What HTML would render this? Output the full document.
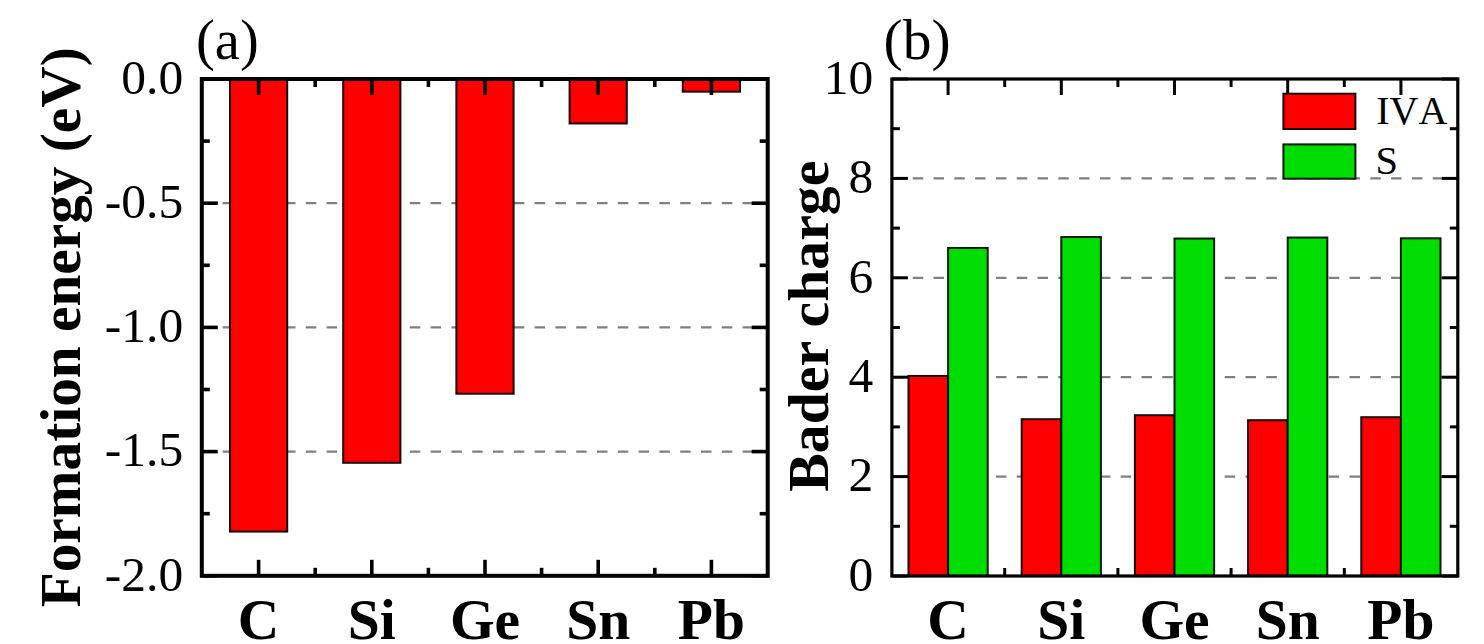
<!DOCTYPE html>
<html><head><meta charset="utf-8"><style>
html,body{margin:0;padding:0;background:#fff;width:1484px;height:644px;overflow:hidden}
svg{display:block}
text{font-family:"Liberation Serif",serif;fill:#000}
</style></head><body>
<svg width="1484" height="644" viewBox="0 0 1484 644">
<rect x="0" y="0" width="1484" height="644" fill="#fff"/>
<line x1="201.8" y1="203.2" x2="767.7" y2="203.2" stroke="#7f7f7f" stroke-width="2.2" stroke-dasharray="10.5 10.3"/>
<line x1="201.8" y1="327.4" x2="767.7" y2="327.4" stroke="#7f7f7f" stroke-width="2.2" stroke-dasharray="10.5 10.3"/>
<line x1="201.8" y1="451.6" x2="767.7" y2="451.6" stroke="#7f7f7f" stroke-width="2.2" stroke-dasharray="10.5 10.3"/>
<rect x="230" y="79" width="57.2" height="452.58" fill="#ff0000" stroke="#1a0000" stroke-width="2"/>
<rect x="343.2" y="79" width="57.2" height="383.78" fill="#ff0000" stroke="#1a0000" stroke-width="2"/>
<rect x="456.4" y="79" width="57.2" height="314.72" fill="#ff0000" stroke="#1a0000" stroke-width="2"/>
<rect x="569.6" y="79" width="57.2" height="44.46" fill="#ff0000" stroke="#1a0000" stroke-width="2"/>
<rect x="682.8" y="79" width="57.2" height="12.67" fill="#ff0000" stroke="#1a0000" stroke-width="2"/>
<line x1="258.6" y1="79" x2="258.6" y2="95" stroke="#000" stroke-width="3.6" />
<line x1="258.6" y1="575.8" x2="258.6" y2="559.8" stroke="#000" stroke-width="3.6" />
<line x1="371.8" y1="79" x2="371.8" y2="95" stroke="#000" stroke-width="3.6" />
<line x1="371.8" y1="575.8" x2="371.8" y2="559.8" stroke="#000" stroke-width="3.6" />
<line x1="485" y1="79" x2="485" y2="95" stroke="#000" stroke-width="3.6" />
<line x1="485" y1="575.8" x2="485" y2="559.8" stroke="#000" stroke-width="3.6" />
<line x1="598.2" y1="79" x2="598.2" y2="95" stroke="#000" stroke-width="3.6" />
<line x1="598.2" y1="575.8" x2="598.2" y2="559.8" stroke="#000" stroke-width="3.6" />
<line x1="711.4" y1="79" x2="711.4" y2="95" stroke="#000" stroke-width="3.6" />
<line x1="711.4" y1="575.8" x2="711.4" y2="559.8" stroke="#000" stroke-width="3.6" />
<line x1="315.2" y1="79" x2="315.2" y2="87" stroke="#000" stroke-width="3.6" />
<line x1="315.2" y1="575.8" x2="315.2" y2="567.8" stroke="#000" stroke-width="3.6" />
<line x1="428.4" y1="79" x2="428.4" y2="87" stroke="#000" stroke-width="3.6" />
<line x1="428.4" y1="575.8" x2="428.4" y2="567.8" stroke="#000" stroke-width="3.6" />
<line x1="541.6" y1="79" x2="541.6" y2="87" stroke="#000" stroke-width="3.6" />
<line x1="541.6" y1="575.8" x2="541.6" y2="567.8" stroke="#000" stroke-width="3.6" />
<line x1="654.8" y1="79" x2="654.8" y2="87" stroke="#000" stroke-width="3.6" />
<line x1="654.8" y1="575.8" x2="654.8" y2="567.8" stroke="#000" stroke-width="3.6" />
<line x1="201.8" y1="79" x2="217.8" y2="79" stroke="#000" stroke-width="3.6" />
<line x1="767.7" y1="79" x2="751.7" y2="79" stroke="#000" stroke-width="3.6" />
<line x1="201.8" y1="203.2" x2="217.8" y2="203.2" stroke="#000" stroke-width="3.6" />
<line x1="767.7" y1="203.2" x2="751.7" y2="203.2" stroke="#000" stroke-width="3.6" />
<line x1="201.8" y1="327.4" x2="217.8" y2="327.4" stroke="#000" stroke-width="3.6" />
<line x1="767.7" y1="327.4" x2="751.7" y2="327.4" stroke="#000" stroke-width="3.6" />
<line x1="201.8" y1="451.6" x2="217.8" y2="451.6" stroke="#000" stroke-width="3.6" />
<line x1="767.7" y1="451.6" x2="751.7" y2="451.6" stroke="#000" stroke-width="3.6" />
<line x1="201.8" y1="575.8" x2="217.8" y2="575.8" stroke="#000" stroke-width="3.6" />
<line x1="767.7" y1="575.8" x2="751.7" y2="575.8" stroke="#000" stroke-width="3.6" />
<line x1="201.8" y1="141.1" x2="209.8" y2="141.1" stroke="#000" stroke-width="3.6" />
<line x1="767.7" y1="141.1" x2="759.7" y2="141.1" stroke="#000" stroke-width="3.6" />
<line x1="201.8" y1="265.3" x2="209.8" y2="265.3" stroke="#000" stroke-width="3.6" />
<line x1="767.7" y1="265.3" x2="759.7" y2="265.3" stroke="#000" stroke-width="3.6" />
<line x1="201.8" y1="389.5" x2="209.8" y2="389.5" stroke="#000" stroke-width="3.6" />
<line x1="767.7" y1="389.5" x2="759.7" y2="389.5" stroke="#000" stroke-width="3.6" />
<line x1="201.8" y1="513.7" x2="209.8" y2="513.7" stroke="#000" stroke-width="3.6" />
<line x1="767.7" y1="513.7" x2="759.7" y2="513.7" stroke="#000" stroke-width="3.6" />
<rect x="201.8" y="79" width="565.9" height="496.8" fill="none" stroke="#000" stroke-width="4" stroke-linecap="square"/>
<text x="183.2" y="93.8" font-size="49.5" text-anchor="end" font-weight="400" >0.0</text>
<text x="183.2" y="218" font-size="49.5" text-anchor="end" font-weight="400" >-0.5</text>
<text x="183.2" y="342.2" font-size="49.5" text-anchor="end" font-weight="400" >-1.0</text>
<text x="183.2" y="466.4" font-size="49.5" text-anchor="end" font-weight="400" >-1.5</text>
<text x="183.2" y="590.6" font-size="49.5" text-anchor="end" font-weight="400" >-2.0</text>
<text x="258.6" y="638.5" font-size="57.5" text-anchor="middle" font-weight="700" >C</text>
<text x="371.8" y="638.5" font-size="57.5" text-anchor="middle" font-weight="700" >Si</text>
<text x="485" y="638.5" font-size="57.5" text-anchor="middle" font-weight="700" >Ge</text>
<text x="598.2" y="638.5" font-size="57.5" text-anchor="middle" font-weight="700" >Sn</text>
<text x="711.4" y="638.5" font-size="57.5" text-anchor="middle" font-weight="700" >Pb</text>
<text transform="translate(80,607.3) rotate(-90)" font-size="57.3" font-weight="700" x="0" y="0">Formation energy (eV)</text>
<text x="196" y="58.7" font-size="56.5" text-anchor="start" font-weight="400" >(a)</text>
<line x1="891.9" y1="476.6" x2="1457.8" y2="476.6" stroke="#7f7f7f" stroke-width="2.2" stroke-dasharray="10.5 10.3"/>
<line x1="891.9" y1="377.2" x2="1457.8" y2="377.2" stroke="#7f7f7f" stroke-width="2.2" stroke-dasharray="10.5 10.3"/>
<line x1="891.9" y1="277.8" x2="1457.8" y2="277.8" stroke="#7f7f7f" stroke-width="2.2" stroke-dasharray="10.5 10.3"/>
<line x1="891.9" y1="178.4" x2="1457.8" y2="178.4" stroke="#7f7f7f" stroke-width="2.2" stroke-dasharray="10.5 10.3"/>
<line x1="948.1" y1="79" x2="948.1" y2="95" stroke="#000" stroke-width="3" />
<line x1="948.1" y1="576" x2="948.1" y2="560" stroke="#000" stroke-width="3" />
<line x1="1061.3" y1="79" x2="1061.3" y2="95" stroke="#000" stroke-width="3" />
<line x1="1061.3" y1="576" x2="1061.3" y2="560" stroke="#000" stroke-width="3" />
<line x1="1174.5" y1="79" x2="1174.5" y2="95" stroke="#000" stroke-width="3" />
<line x1="1174.5" y1="576" x2="1174.5" y2="560" stroke="#000" stroke-width="3" />
<line x1="1287.7" y1="79" x2="1287.7" y2="95" stroke="#000" stroke-width="3" />
<line x1="1287.7" y1="576" x2="1287.7" y2="560" stroke="#000" stroke-width="3" />
<line x1="1400.9" y1="79" x2="1400.9" y2="95" stroke="#000" stroke-width="3" />
<line x1="1400.9" y1="576" x2="1400.9" y2="560" stroke="#000" stroke-width="3" />
<line x1="1004.7" y1="79" x2="1004.7" y2="87" stroke="#000" stroke-width="3" />
<line x1="1004.7" y1="576" x2="1004.7" y2="568" stroke="#000" stroke-width="3" />
<line x1="1117.9" y1="79" x2="1117.9" y2="87" stroke="#000" stroke-width="3" />
<line x1="1117.9" y1="576" x2="1117.9" y2="568" stroke="#000" stroke-width="3" />
<line x1="1231.1" y1="79" x2="1231.1" y2="87" stroke="#000" stroke-width="3" />
<line x1="1231.1" y1="576" x2="1231.1" y2="568" stroke="#000" stroke-width="3" />
<line x1="1344.3" y1="79" x2="1344.3" y2="87" stroke="#000" stroke-width="3" />
<line x1="1344.3" y1="576" x2="1344.3" y2="568" stroke="#000" stroke-width="3" />
<line x1="891.9" y1="576" x2="907.9" y2="576" stroke="#000" stroke-width="3" />
<line x1="1457.8" y1="576" x2="1441.8" y2="576" stroke="#000" stroke-width="3" />
<line x1="891.9" y1="476.6" x2="907.9" y2="476.6" stroke="#000" stroke-width="3" />
<line x1="1457.8" y1="476.6" x2="1441.8" y2="476.6" stroke="#000" stroke-width="3" />
<line x1="891.9" y1="377.2" x2="907.9" y2="377.2" stroke="#000" stroke-width="3" />
<line x1="1457.8" y1="377.2" x2="1441.8" y2="377.2" stroke="#000" stroke-width="3" />
<line x1="891.9" y1="277.8" x2="907.9" y2="277.8" stroke="#000" stroke-width="3" />
<line x1="1457.8" y1="277.8" x2="1441.8" y2="277.8" stroke="#000" stroke-width="3" />
<line x1="891.9" y1="178.4" x2="907.9" y2="178.4" stroke="#000" stroke-width="3" />
<line x1="1457.8" y1="178.4" x2="1441.8" y2="178.4" stroke="#000" stroke-width="3" />
<line x1="891.9" y1="79" x2="907.9" y2="79" stroke="#000" stroke-width="3" />
<line x1="1457.8" y1="79" x2="1441.8" y2="79" stroke="#000" stroke-width="3" />
<line x1="891.9" y1="526.3" x2="899.9" y2="526.3" stroke="#000" stroke-width="3" />
<line x1="1457.8" y1="526.3" x2="1449.8" y2="526.3" stroke="#000" stroke-width="3" />
<line x1="891.9" y1="426.9" x2="899.9" y2="426.9" stroke="#000" stroke-width="3" />
<line x1="1457.8" y1="426.9" x2="1449.8" y2="426.9" stroke="#000" stroke-width="3" />
<line x1="891.9" y1="327.5" x2="899.9" y2="327.5" stroke="#000" stroke-width="3" />
<line x1="1457.8" y1="327.5" x2="1449.8" y2="327.5" stroke="#000" stroke-width="3" />
<line x1="891.9" y1="228.1" x2="899.9" y2="228.1" stroke="#000" stroke-width="3" />
<line x1="1457.8" y1="228.1" x2="1449.8" y2="228.1" stroke="#000" stroke-width="3" />
<line x1="891.9" y1="128.7" x2="899.9" y2="128.7" stroke="#000" stroke-width="3" />
<line x1="1457.8" y1="128.7" x2="1449.8" y2="128.7" stroke="#000" stroke-width="3" />
<rect x="908.49" y="375.96" width="39.61" height="200.04" fill="#ff0000" stroke="#1a0000" stroke-width="2"/>
<rect x="948.1" y="247.98" width="39.61" height="328.02" fill="#00dd00" stroke="#001a00" stroke-width="2"/>
<rect x="1021.69" y="419.2" width="39.61" height="156.8" fill="#ff0000" stroke="#1a0000" stroke-width="2"/>
<rect x="1061.3" y="237.05" width="39.61" height="338.95" fill="#00dd00" stroke="#001a00" stroke-width="2"/>
<rect x="1134.89" y="415.22" width="39.61" height="160.78" fill="#ff0000" stroke="#1a0000" stroke-width="2"/>
<rect x="1174.5" y="238.54" width="39.61" height="337.46" fill="#00dd00" stroke="#001a00" stroke-width="2"/>
<rect x="1248.09" y="420.19" width="39.61" height="155.81" fill="#ff0000" stroke="#1a0000" stroke-width="2"/>
<rect x="1287.7" y="237.54" width="39.61" height="338.46" fill="#00dd00" stroke="#001a00" stroke-width="2"/>
<rect x="1361.29" y="417.21" width="39.61" height="158.79" fill="#ff0000" stroke="#1a0000" stroke-width="2"/>
<rect x="1400.9" y="238.29" width="39.61" height="337.71" fill="#00dd00" stroke="#001a00" stroke-width="2"/>
<rect x="891.9" y="79" width="565.9" height="497" fill="none" stroke="#000" stroke-width="3.2" stroke-linecap="square"/>
<text x="873.3" y="590.8" font-size="49.5" text-anchor="end" font-weight="400" >0</text>
<text x="873.3" y="491.4" font-size="49.5" text-anchor="end" font-weight="400" >2</text>
<text x="873.3" y="392" font-size="49.5" text-anchor="end" font-weight="400" >4</text>
<text x="873.3" y="292.6" font-size="49.5" text-anchor="end" font-weight="400" >6</text>
<text x="873.3" y="193.2" font-size="49.5" text-anchor="end" font-weight="400" >8</text>
<text x="873.3" y="93.8" font-size="49.5" text-anchor="end" font-weight="400" >10</text>
<text x="948.1" y="638.5" font-size="57.5" text-anchor="middle" font-weight="700" >C</text>
<text x="1061.3" y="638.5" font-size="57.5" text-anchor="middle" font-weight="700" >Si</text>
<text x="1174.5" y="638.5" font-size="57.5" text-anchor="middle" font-weight="700" >Ge</text>
<text x="1287.7" y="638.5" font-size="57.5" text-anchor="middle" font-weight="700" >Sn</text>
<text x="1400.9" y="638.5" font-size="57.5" text-anchor="middle" font-weight="700" >Pb</text>
<text transform="translate(827.5,491.8) rotate(-90)" font-size="57.8" font-weight="700" x="0" y="0">Bader charge</text>
<text x="883.5" y="58.7" font-size="57.5" text-anchor="start" font-weight="400" >(b)</text>
<rect x="1283.4" y="93.7" width="72" height="35.3" fill="#ff0000" stroke="#1a0000" stroke-width="2"/>
<rect x="1283.4" y="144.4" width="72" height="34.3" fill="#00dd00" stroke="#001a00" stroke-width="2"/>
<text x="1376.3" y="124.4" font-size="40" text-anchor="start" font-weight="400" style="font-kerning:none">IVA</text>
<text x="1375.6" y="174" font-size="40.5" text-anchor="start" font-weight="400" >S</text>
</svg>
</body></html>
